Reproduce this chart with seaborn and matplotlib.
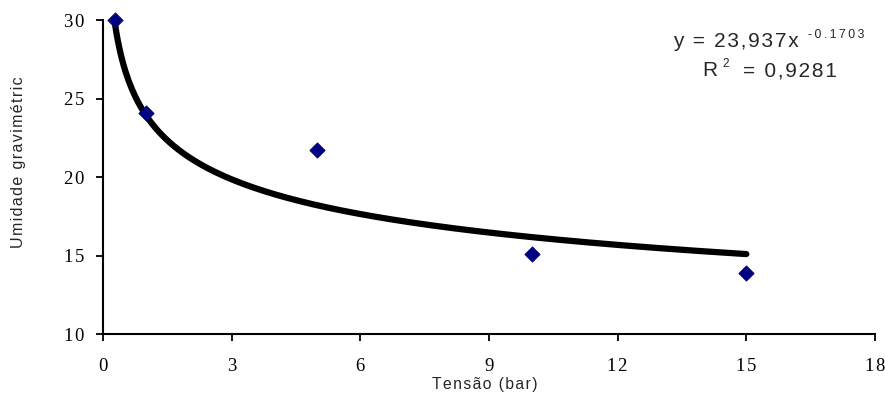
import numpy as np
import pandas as pd
import matplotlib
matplotlib.use("Agg")
import matplotlib.pyplot as plt
import seaborn as sns

# Data
tensao = [0.27, 1.0, 5.0, 10.0, 15.0]
umidade = [30.0, 24.1, 21.7, 15.1, 13.9]
coef_a = 23.937
coef_b = -0.1703
x_ticks = [0, 3, 6, 9, 12, 15, 18]
y_ticks = [10, 15, 20, 25, 30]

sns.set_style("ticks")
plt.rcParams['font.family'] = ['Liberation Sans', 'DejaVu Sans']

HS = "\u200a"  # hair space used as letter spacing
TS = "\u2009"  # thin space


def spaced(s, sep=HS):
    return sep.join(list(s))


fig = plt.figure(figsize=(8.85, 4.01), dpi=100)
ax = fig.add_axes([0.1164, 0.167, 0.8723, 0.783])

df = pd.DataFrame({"Tensão": tensao, "Umidade": umidade})

# Power trendline (from the equation shown in the chart)
xt = np.linspace(min(tensao), max(tensao), 400)
trend = pd.DataFrame({"x": xt, "y": coef_a * xt ** coef_b})
sns.lineplot(data=trend, x="x", y="y", ax=ax, color="black", linewidth=4.5,
             zorder=2)

sns.scatterplot(data=df, x="Tensão", y="Umidade", ax=ax, marker="D",
                s=60, color="#000080", edgecolor="#000080", zorder=3,
                clip_on=False)

ax.set_xlim(0, 18)
ax.set_ylim(10, 30)
ax.set_xticks(x_ticks)
ax.set_yticks(y_ticks)
ax.set_xticklabels([spaced(str(v)) for v in x_ticks],
                   family=['Liberation Serif', 'DejaVu Serif'], fontsize=13.5)
ax.set_yticklabels([spaced(str(v)) for v in y_ticks],
                   family=['Liberation Serif', 'DejaVu Serif'], fontsize=13.5)
ax.tick_params(axis='both', direction='out', length=5, width=1.3,
               colors='black')
ax.tick_params(axis='x', pad=12)
ax.tick_params(axis='y', pad=8.5)
for s in ['left', 'bottom']:
    ax.spines[s].set_linewidth(1.5)
    ax.spines[s].set_color('black')
sns.despine(ax=ax)

ax.set_xlabel("")
ax.set_ylabel("")
fig.text(0.548, 0.041, spaced("Tensão (bar)"), fontsize=11.3,
         ha='center', va='center')
fig.text(0.021, 0.596, spaced("Umidade gravimétric"), rotation=90,
         fontsize=11.5, va='center', ha='center')

eq = fig.text(0.761, 0.883, spaced("y = 23,937x"), fontsize=15,
              ha='left', va='baseline')
ax.annotate(spaced("-0.1703", TS), xy=(1.0, 1.0), xycoords=eq,
            xytext=(6, 2), textcoords='offset points',
            fontsize=8.8, ha='left', va='top')
r2 = fig.text(0.793, 0.810, "R", fontsize=15, ha='left', va='baseline')
ax.annotate("2", xy=(1.0, 1.0), xycoords=r2, xytext=(4, 2),
            textcoords='offset points', fontsize=8.5, ha='left', va='top')
fig.text(0.840, 0.810, spaced("= 0,9281"), fontsize=15,
         ha='left', va='baseline')

fig.savefig("out.png", dpi=100)
